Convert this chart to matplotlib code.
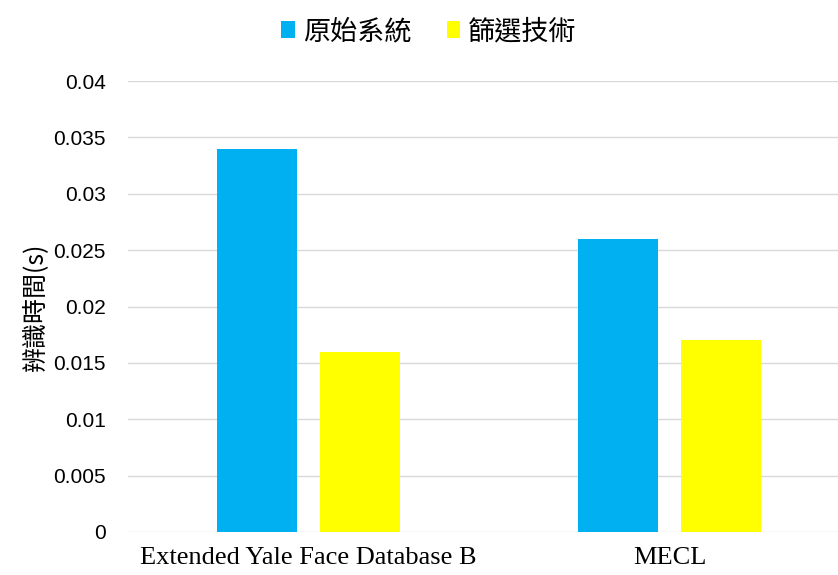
import numpy as np
import matplotlib
matplotlib.use("Agg")
import matplotlib.pyplot as plt

categories = ["Extended Yale Face Database B", "MECL"]
series_names = ["原始系統", "篩選技術"]
original = [0.034, 0.026]
filtered = [0.016, 0.017]
yticks = [0, 0.005, 0.01, 0.015, 0.02, 0.025, 0.03, 0.035, 0.04]
ytick_labels = ["0", "0.005", "0.01", "0.015", "0.02", "0.025", "0.03", "0.035", "0.04"]

colors = ["#00B0F0", "#FFFF00"]
cjk = ["Noto Sans CJK TC", "DejaVu Sans"]

fig = plt.figure(figsize=(8.38, 5.75), dpi=100)
ax = fig.add_axes([0.1527, 0.0748, 0.8473, 0.7843])

x = np.arange(len(categories))
w = 0.222
off = 0.143
b1 = ax.bar(x - off, original, w, color=colors[0], label=series_names[0], zorder=3)
b2 = ax.bar(x + off, filtered, w, color=colors[1], label=series_names[1], zorder=3)

ax.set_xlim(-0.5, 1.467)
ax.set_ylim(0, 0.04)
ax.set_yticks(yticks)
ax.set_yticklabels(ytick_labels, family="Liberation Sans", fontsize=15)
ax.set_xticks(x)
ax.set_xticklabels(categories, family="Liberation Serif", fontsize=19)
ax.tick_params(length=0)
ax.tick_params(axis="y", pad=16)
ax.tick_params(axis="x", pad=11)
ax.grid(axis="y", color="#d9d9d9", linewidth=1, zorder=0)
for s in ax.spines.values():
    s.set_visible(False)

ax.set_ylabel("辨識時間(s)", family=cjk, fontsize=18, labelpad=4)

fig.legend(handles=[b1, b2], loc="center", bbox_to_anchor=(0.512, 0.945), ncol=2,
           frameon=False, prop={"family": cjk, "size": 19.5},
           handlelength=0.5, handleheight=0.55, handletextpad=0.3, columnspacing=1.3)

fig.savefig("out.png", dpi=100)
